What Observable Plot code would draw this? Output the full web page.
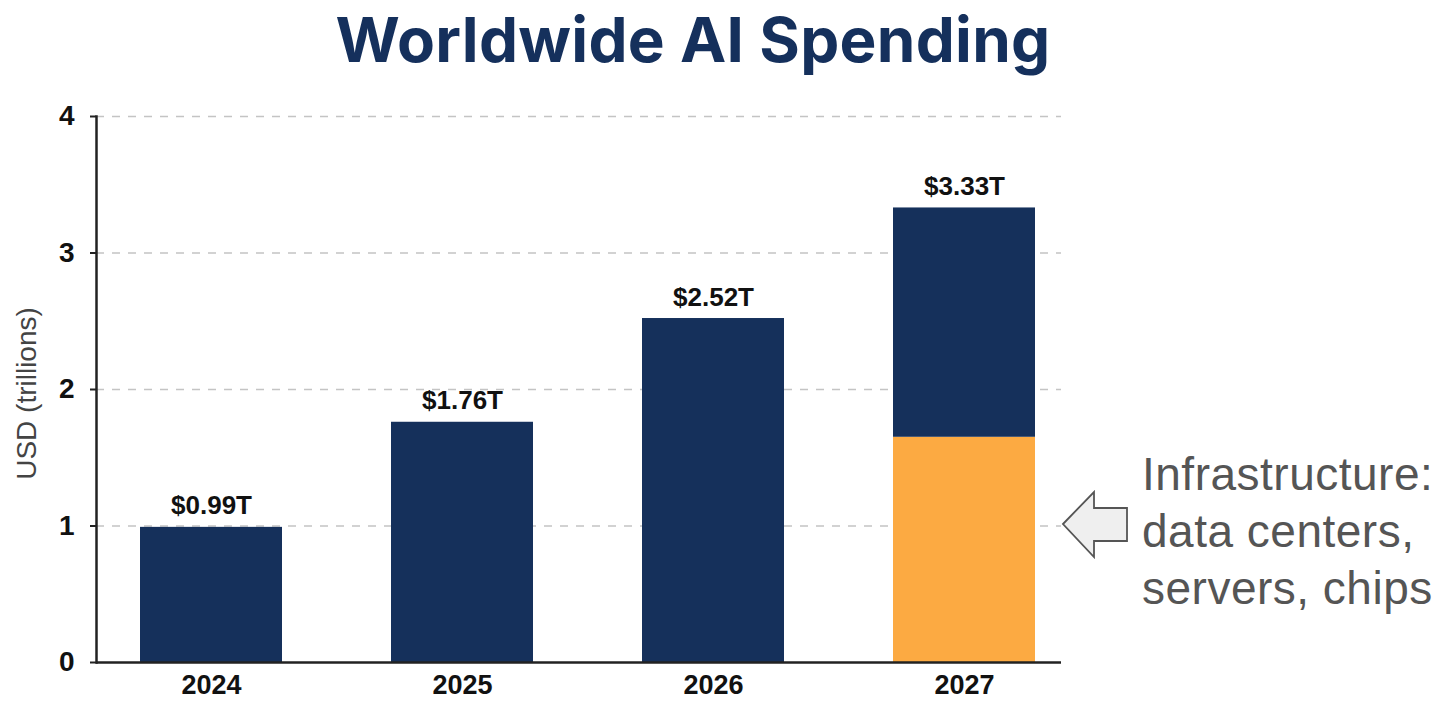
<!DOCTYPE html>
<html><head><meta charset="utf-8">
<script src="https://cdn.jsdelivr.net/npm/d3@7"></script>
<script src="https://cdn.jsdelivr.net/npm/@observablehq/plot@0.6"></script>
<style>
body{margin:0;background:#fff;}
#wrap{position:relative;width:1446px;height:702px;overflow:hidden;background:#fff;}
#wrap > svg{position:absolute;left:0;top:0;}
</style></head><body><div id="wrap"></div>
<script>
const title = "Worldwide AI Spending";
const years = ["2024", "2025", "2026", "2027"];
const totals = [0.99, 1.76, 2.52, 3.33];
const infrastructure = [0, 0, 0, 1.65];
const valueLabels = ["$0.99T", "$1.76T", "$2.52T", "$3.33T"];
const yTicks = [0, 1, 2, 3, 4];
const yLabel = "USD (trillions)";
const noteLines = ["Infrastructure:", "data centers,", "servers, chips"];

const navy = "#15305b";
const orange = "#fcaa42";

const segs = [];
years.forEach((y, i) => {
  if (infrastructure[i] > 0) segs.push({year: y, part: "Infrastructure", value: infrastructure[i]});
  segs.push({year: y, part: "Other", value: +(totals[i] - infrastructure[i]).toFixed(2)});
});
const totalRows = years.map((y, i) => ({year: y, total: totals[i], label: valueLabels[i]}));

const font = "'Liberation Sans', Arial, Helvetica, sans-serif";

const chart = Plot.plot({
  width: 1446, height: 702,
  marginTop: 116, marginBottom: 40, marginLeft: 96, marginRight: 385,
  style: {fontFamily: font, background: "transparent", overflow: "visible"},
  x: {domain: years, paddingInner: 0.434, paddingOuter: 0.1, insetLeft: 18, label: null},
  y: {domain: [0, 4], label: null},
  color: {domain: ["Infrastructure", "Other"], range: [orange, navy]},
  marks: [
    Plot.gridY(yTicks.filter(d => d > 0), {stroke: "#c4c4c4", strokeOpacity: 1, strokeDasharray: "8,8", strokeWidth: 1.5}),
    Plot.barY(segs, {x: "year", y: "value", fill: "part"}),
    Plot.ruleY([0], {stroke: "#222", strokeWidth: 2.5}),
    Plot.frame({anchor: "left", stroke: "#222", strokeWidth: 2.5}),
    Plot.axisY(yTicks, {tickSize: 6, tickPadding: 16, tickFormat: d3.format("d"), fontSize: 28, fontWeight: "bold", fill: "#111", stroke: "#222", strokeWidth: 2, label: null}),
    Plot.axisX({tickSize: 0, tickPadding: 12, fontSize: 27, fontWeight: "bold", fill: "#111", label: null}),
    Plot.text([yLabel], {frameAnchor: "left", textAnchor: "middle", rotate: -90, dx: -69, dy: 4, fontSize: 28, fill: "#444"}),
    Plot.text(totalRows, {x: "year", y: "total", text: "label", lineAnchor: "bottom", dy: -13, fontSize: 26, fontWeight: "bold", fill: "#111"})
  ]
});

const wrap = document.getElementById("wrap");
wrap.appendChild(chart);

// overlay: title, annotation arrow and note
const ov = d3.select(wrap).append("svg")
  .attr("width", 1446).attr("height", 702)
  .style("pointer-events", "none");

ov.append("text")
  .attr("x", 693).attr("y", 62)
  .attr("text-anchor", "middle")
  .attr("font-family", "Inter, 'Noto Sans', sans-serif")
  .attr("font-weight", 700)
  .attr("font-size", 62)
  .attr("letter-spacing", 0.3)
  .attr("fill", "#15305c")
  .text(title);

ov.append("polygon")
  .attr("points", "1063,524 1094,492 1094,508 1127,508 1127,541 1094,541 1094,557")
  .attr("fill", "#efefef").attr("stroke", "#555").attr("stroke-width", 1.8)
  .attr("stroke-linejoin", "miter");

const note = ov.append("text")
  .attr("font-family", font)
  .attr("font-size", 46)
  .attr("letter-spacing", 0.5)
  .attr("fill", "#555");
noteLines.forEach((t, i) => {
  note.append("tspan").attr("x", 1142).attr("y", 490 + i * 57).text(t);
});
</script></body></html>
